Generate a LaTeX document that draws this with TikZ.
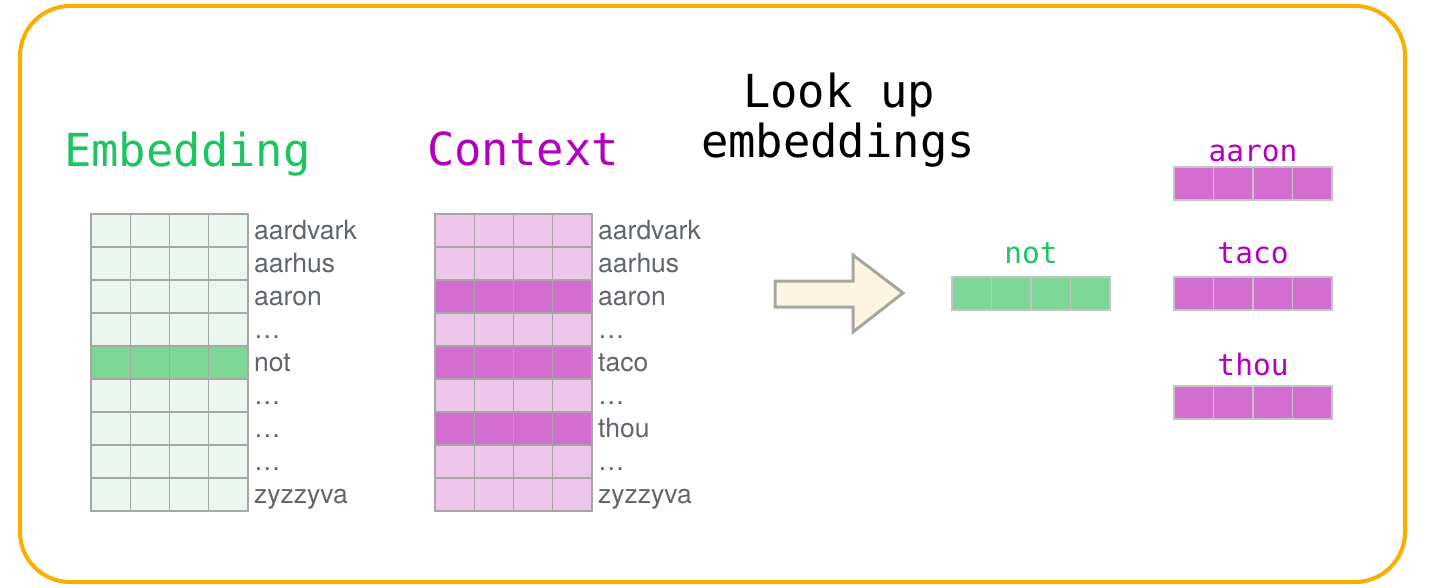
\documentclass[tikz,border=0pt]{standalone}
\usepackage{fontspec}
\setmainfont{TeX Gyre Heros}
\setmonofont{DejaVu Sans Mono}
\usepackage{xcolor}
\usetikzlibrary{positioning}

\definecolor{embgreen}{RGB}{30,196,96}
\definecolor{cellgreen}{RGB}{126,214,150}
\definecolor{palegreen}{RGB}{234,246,238}
\definecolor{ctxpurple}{RGB}{180,0,190}
\definecolor{cellpink}{RGB}{211,110,208}
\definecolor{palepink}{RGB}{238,198,234}
\definecolor{gridgray}{RGB}{166,166,166}
\definecolor{vecgray}{RGB}{196,196,196}
\definecolor{wordgray}{RGB}{96,100,108}
\definecolor{frameorange}{RGB}{252,174,0}
\definecolor{arrowfill}{RGB}{253,244,228}
\definecolor{arrowgray}{RGB}{166,166,160}

\tikzset{
  cell/.style={draw=gridgray, line width=1.3pt, minimum width=39.25pt, minimum height=33pt, inner sep=0pt, outer sep=0pt},
  veccell/.style={cell, draw=vecgray, minimum width=39.5pt},
  word/.style={anchor=west, text=wordgray, font=\fontsize{26.5}{30}\selectfont, inner sep=0pt, text height=22pt, text depth=5pt},
  title/.style={anchor=base west, font=\fontsize{45.5}{52}\selectfont\ttfamily, inner sep=0pt},
  veclabel/.style={anchor=base, font=\fontsize{29.5}{34}\selectfont\ttfamily, inner sep=0pt},
}

\begin{document}
\begin{tikzpicture}[x=1pt, y=-1pt]
  \useasboundingbox (0,0) rectangle (1431,588);
  \draw[frameorange, line width=4pt, rounded corners=50pt] (20,6) rectangle (1405,582);

  % titles
  \node[title, text=embgreen] (embtitle) at (64,167) {Embedding};
  \node[title, text=ctxpurple] (ctxtitle) at (427,166) {Context};
  \node[title, anchor=base] (look) at (839,108) {Look up};
  \node[title, anchor=base] (lookemb) at (838,158) {embeddings};

  % embedding matrix
  \foreach \w [count=\i] in {aardvark,aarhus,aaron,\dots,not,\dots,\dots,\dots,zyzzyva} {
    \pgfmathsetmacro\yy{214+33*(\i-0.5)}
    \def\efill{palegreen}
    \ifnum\i=5 \def\efill{cellgreen}\fi
    \foreach \j in {1,...,4}
      \node[cell, fill=\efill] (e\i-\j) at ({91+39.25*(\j-0.5)},\yy) {};
    \node[word, right=6pt of e\i-4] (ew\i) {\w};
  }

  % context matrix
  \foreach \w [count=\i] in {aardvark,aarhus,aaron,\dots,taco,\dots,thou,\dots,zyzzyva} {
    \pgfmathsetmacro\yy{214+33*(\i-0.5)}
    \def\cfill{palepink}
    \ifnum\i=3 \def\cfill{cellpink}\fi
    \ifnum\i=5 \def\cfill{cellpink}\fi
    \ifnum\i=7 \def\cfill{cellpink}\fi
    \foreach \j in {1,...,4}
      \node[cell, fill=\cfill] (c\i-\j) at ({435+39.25*(\j-0.5)},\yy) {};
    \node[word, right=6pt of c\i-4] (cw\i) {\w};
  }

  % arrow
  \draw[fill=arrowfill, draw=arrowgray, line width=3pt, line join=miter]
    (775,281) -- (853,281) -- (853,255) -- (903,293) -- (853,332) -- (853,307) -- (775,307) -- cycle;

  % looked up vectors
  \foreach \j in {1,...,4}
    \node[veccell, fill=cellgreen] (not-\j) at ({952+39.5*(\j-0.5)},293.5) {};
  \node[veclabel, text=embgreen] (notlabel) at (1031,263) {not};

  \foreach \v/\top/\base in {aaron/167/162, taco/277/263, thou/386/375} {
    \foreach \j in {1,...,4}
      \node[veccell, fill=cellpink] (\v-\j) at ({1174+39.5*(\j-0.5)},\top+16.5) {};
    \node[veclabel, text=ctxpurple] (\v label) at (1253,\base) {\v};
  }
\end{tikzpicture}
\end{document}
